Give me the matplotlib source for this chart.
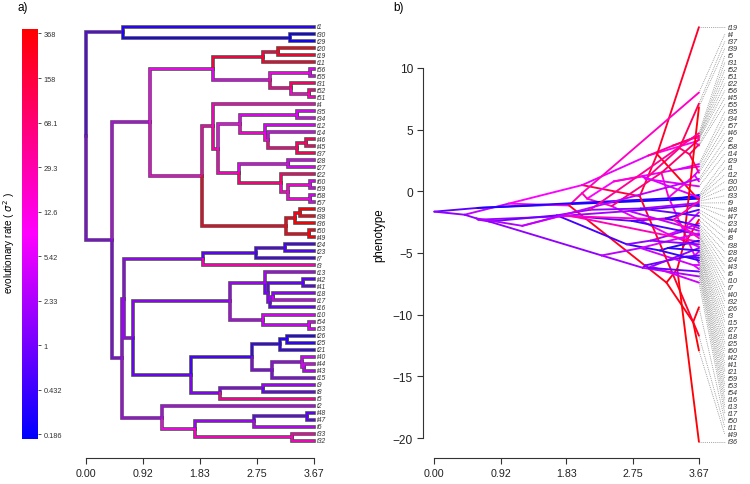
import matplotlib
matplotlib.use("Agg")
import matplotlib.pyplot as plt
import numpy as np
from matplotlib.colors import LinearSegmentedColormap, LogNorm
from matplotlib.cm import ScalarMappable
from matplotlib.ticker import NullLocator

plt.rcParams['font.family'] = ['Liberation Sans', 'DejaVu Sans']

# ---- data ----
tree_height = 3.67
time_ticks = [0.0, 0.92, 1.83, 2.75, 3.67]
time_labels = ["0.00", "0.92", "1.83", "2.75", "3.67"]
rate_ticks = [0.186, 0.432, 1, 2.33, 5.42, 12.6, 29.3, 68.1, 158, 368]
rate_labels = ["0.186", "0.432", "1", "2.33", "5.42", "12.6", "29.3", "68.1", "158", "368"]
pheno_ticks = [-20, -15, -10, -5, 0, 5, 10]

# internal nodes: name, parent, node age, rate of the branch above, phenotype
node_names = ["root", "A", "A1", "B", "C", "C1", "C1a", "C1a1", "C1b", "C1b1",
              "C1b2", "C1b3", "C2", "X", "Y", "Y1", "Y1a", "Y1b", "Y1c", "Y1d",
              "Y1e", "Y2", "Y2a", "Y2b", "Y2c", "Y2d", "Y2e", "C2b", "C2b1", "C2b2",
              "C2b3", "D", "D1", "D1a", "D1a1", "D1a2", "D1b", "D1c", "D1c1", "D1c2",
              "D1c3", "D1c4", "D1c5", "D1c6", "D1c7", "D1d", "D1e", "D1f", "D1g", "D1h",
              "D1i", "D1j", "D1k", "D1l", "D2", "D2a", "D2b", "D2c", "D2d"]
node_parent = [None, "root", "A", "root", "B", "C", "C1", "C1a", "C1", "C1b",
               "C1b", "C1b2", "C", "C2", "X", "Y", "Y1", "Y1", "Y1b", "Y1c",
               "Y1d", "Y", "Y2", "Y2", "Y2b", "Y2c", "Y2c", "C2", "C2b", "C2b1",
               "C2b", "B", "D", "D1", "D1a", "D1a1", "D1", "D1b", "D1c", "D1c1",
               "D1c2", "D1c2", "D1c4", "D1c", "D1c6", "D1b", "D1d", "D1e", "D1f", "D1e",
               "D1h", "D1i", "D1d", "D1k", "D", "D2", "D2a", "D2b", "D2a"]
node_time = [0.00, 0.60, 3.28, 0.42, 1.03, 2.05, 2.85, 3.09, 2.97, 3.61,
             3.31, 3.60, 1.87, 2.05, 2.12, 2.49, 3.40, 2.89, 2.93, 3.40,
             3.54, 2.46, 3.25, 3.15, 3.25, 3.61, 3.61, 3.22, 3.37, 3.45,
             3.59, 0.585, 0.61, 1.89, 2.74, 3.21, 0.76, 2.32, 2.89, 2.93,
             3.49, 2.97, 3.01, 2.86, 3.60, 1.70, 2.67, 3.13, 3.24, 3.00,
             3.48, 3.52, 2.16, 2.86, 1.22, 1.76, 2.70, 3.57, 3.32]
node_rate = [1.0, 0.7, 0.25, 1.5, 3.5, 8, 150, 150, 6, 10,
             40, 15, 12, 25, 30, 8, 6, 15, 15, 50,
             80, 20, 6, 60, 20, 15, 12, 250, 300, 300,
             300, 1.5, 2, 1.8, 0.7, 0.6, 2, 1.6, 2, 1.0,
             0.8, 1.5, 2, 3, 4, 0.9, 0.5, 0.4, 0.3, 1.5,
             2, 5, 1.3, 1.5, 2.5, 10, 2, 0.8, 20]
node_pheno = [-1.65, -1.35, -0.7, -1.9, -1.0, 0.5, -0.4, 3.0, 2.9, 4.0,
              3.7, 4.3, -1.15, -0.15, -0.6, 0.8, 1.8, 1.2, 1.0, 3.5,
              3.0, -1.2, -3.5, 1.5, -0.5, -5.2, 1.3, -7.4, -6.3, -4.5,
              -10.6, -2.2, -2.3, -2.0, -2.4, -2.2, -2.45, -5.2, -6.2, -6.0,
              -5.3, -6.2, -6.1, -4.6, -6.0, -1.95, -4.3, -4.8, -4.6, -4.0,
              -3.2, -2.6, -1.5, -1.4, -2.8, -2.0, -1.6, -1.15, -2.3]

# tips, top to bottom in panel a
tip_order = ["t1", "t30", "t29", "t20", "t19", "t11", "t56", "t55", "t31", "t52",
             "t51", "t4", "t35", "t34", "t12", "t14", "t46", "t45", "t37", "t28",
             "t27", "t22", "t60", "t59", "t58", "t57", "t39", "t38", "t36", "t50",
             "t49", "t24", "t23", "t7", "t3", "t13", "t42", "t41", "t18", "t17",
             "t16", "t10", "t54", "t53", "t26", "t25", "t21", "t40", "t44", "t43",
             "t15", "t9", "t8", "t5", "t2", "t48", "t47", "t6", "t33", "t32"]
tip_parent = ["A", "A1", "A1", "C1a1", "C1a1", "C1a", "C1b1", "C1b1", "C1b2", "C1b3",
              "C1b3", "X", "Y1a", "Y1a", "Y1b", "Y1c", "Y1e", "Y1e", "Y1d", "Y2a",
              "Y2a", "Y2b", "Y2d", "Y2d", "Y2e", "Y2e", "C2b2", "C2b2", "C2b1", "C2b3",
              "C2b3", "D1a2", "D1a2", "D1a1", "D1a", "D1c1", "D1c3", "D1c3", "D1c5", "D1c5",
              "D1c4", "D1c6", "D1c7", "D1c7", "D1g", "D1g", "D1f", "D1i", "D1j", "D1j",
              "D1h", "D1l", "D1l", "D1k", "D2", "D2c", "D2c", "D2b", "D2d", "D2d"]
tip_rate = [0.3, 0.2, 0.2, 300, 200, 200, 6, 5, 80, 50,
            20, 20, 5, 5, 5, 5, 100, 80, 100, 5,
            5, 80, 5, 5, 5, 5, 368, 300, 368, 300,
            368, 0.5, 0.6, 0.5, 25, 2.5, 0.7, 0.7, 1.5, 4,
            0.8, 5, 5, 5, 0.3, 0.35, 0.4, 4, 5, 3,
            1.5, 2, 0.8, 40, 3, 0.7, 0.7, 3, 30, 20]
tip_pheno = [-0.45, -0.6, -0.3, -0.7, 13.3, -11.7, 4.15, 3.7, 4.5, 4.4,
             4.3, 8.0, 2.2, 2.0, -0.5, 0.4, 1.5, 3.8, 7.1, -2.6,
             -4.5, 4.2, -4.9, -5.8, 0.8, 1.7, 6.8, -2.3, -20.3, -9.4,
             -12.9, -2.8, -1.5, -3.5, -4.1, -6.9, -5.2, -5.4, -4.6, -7.4,
             -6.5, -3.4, -6.3, -6.0, -4.0, -4.8, -5.6, -3.6, -1.7, -3.0,
             -4.3, -0.95, -2.0, 4.7, 1.0, -1.1, -1.2, -3.2, -0.8, -3.8]

# ---- tree bookkeeping ----
names = node_names + tip_order
parent = dict(zip(names, node_parent + tip_parent))
age = dict(zip(names, node_time + [tree_height] * len(tip_order)))
rate = dict(zip(names, node_rate + tip_rate))
pheno = dict(zip(names, node_pheno + tip_pheno))
children = {n: [] for n in names}
for n in names:
    if parent[n] is not None:
        children[parent[n]].append(n)

ypos = {}
def get_y(n):
    if n not in ypos:
        if children[n]:
            ypos[n] = np.mean([get_y(c) for c in children[n]])
        else:
            ypos[n] = tip_order.index(n)
    return ypos[n]
for n in names:
    get_y(n)

cmap = LinearSegmentedColormap.from_list("rate", ["#0000ff", "#ff00ff", "#ff0000"])
norm = LogNorm(vmin=0.17, vmax=400)

W, H = 750, 485
fig = plt.figure(figsize=(W / 100, H / 100), dpi=100)

def box(x0, y0, x1, y1):
    return [x0 / W, 1 - y1 / H, (x1 - x0) / W, (y1 - y0) / H]

axis_col = "#333333"

# ---- panel a: tree ----
ax1 = fig.add_axes(box(86, 20, 313.7, 458.7))
edges = [n for n in names if parent[n] is not None]
for n in edges:
    p = parent[n]
    ax1.plot([age[p], age[p], age[n]], [ypos[p], ypos[n], ypos[n]],
             color="#4a4a4a", lw=2.6, solid_joinstyle="miter",
             solid_capstyle="projecting", clip_on=False, zorder=1)
for n in edges:
    p = parent[n]
    ax1.plot([age[p], age[p], age[n]], [ypos[p], ypos[n], ypos[n]],
             color=cmap(norm(rate[n])), lw=1.3, solid_joinstyle="miter",
             solid_capstyle="projecting", clip_on=False, zorder=2)
for t in tip_order:
    ax1.text(tree_height + 0.05, ypos[t], t, style="italic", fontsize=4.8,
             color="#333333", va="center", ha="left", clip_on=False)
ax1.set_xlim(0, tree_height)
ax1.set_ylim(61.42, -1.14)
for s in ["left", "right", "top"]:
    ax1.spines[s].set_visible(False)
ax1.spines["bottom"].set_bounds(0, tree_height)
ax1.spines["bottom"].set_color(axis_col)
ax1.spines["bottom"].set_linewidth(0.8)
ax1.set_yticks([])
ax1.set_xticks(time_ticks)
ax1.set_xticklabels(time_labels)
ax1.tick_params(axis="x", length=4.5, width=0.8, color=axis_col,
                labelsize=7.7, pad=3, labelcolor="#222222")
fig.text(18 / W, 1 - 11 / H, "a)", fontsize=8.5, ha="left", va="baseline")

# colour bar
cax = fig.add_axes(box(22, 30, 38, 440))
sm = ScalarMappable(norm=norm, cmap=cmap)
cb = fig.colorbar(sm, cax=cax, ticks=rate_ticks)
cb.set_ticklabels(rate_labels)
cax.yaxis.set_minor_locator(NullLocator())
cb.outline.set_visible(False)
cax.tick_params(length=2.2, width=0.6, color=axis_col, labelsize=5.3,
                pad=2, labelcolor="#333333")
cax.set_ylabel(r"evolutionary rate ( $\sigma^2$ )", fontsize=7.2)
cax.yaxis.set_label_position("left")
cax.yaxis.set_label_coords(-0.3, 0.48)

# ---- panel b: phenogram ----
ax2 = fig.add_axes(box(422.7, 20, 700, 458.7))
for n in edges:
    p = parent[n]
    ax2.plot([age[p], age[n]], [pheno[p], pheno[n]], color=cmap(norm(rate[n])),
             lw=1.35, solid_capstyle="round", zorder=2)

order = sorted(tip_order, key=lambda t: -pheno[t])
label_y = np.linspace(pheno[order[0]], pheno[order[-1]], len(order))
for t, ly in zip(order, label_y):
    ax2.plot([tree_height, 4.03], [pheno[t], ly], ls=(0, (1, 1.3)),
             color="#8a8a8a", lw=0.6, clip_on=False, zorder=1)
    ax2.text(4.07, ly, t, style="italic", fontsize=5.2, color="#333333",
             va="center", ha="left", clip_on=False)

ax2.set_xlim(-0.161, 3.685)
ax2.set_ylim(-21.59, 13.96)
for s in ["right", "top"]:
    ax2.spines[s].set_visible(False)
ax2.spines["bottom"].set_bounds(0, tree_height)
ax2.spines["left"].set_bounds(-20, 10)
for s in ["bottom", "left"]:
    ax2.spines[s].set_color(axis_col)
    ax2.spines[s].set_linewidth(0.8)
ax2.set_xticks(time_ticks)
ax2.set_xticklabels(time_labels)
ax2.set_yticks(pheno_ticks)
ax2.tick_params(axis="x", length=4.5, width=0.8, color=axis_col,
                labelsize=7.7, pad=3, labelcolor="#222222")
ax2.tick_params(axis="y", length=4.5, width=0.8, color=axis_col,
                labelsize=8.6, pad=2.5, labelcolor="#222222")
ax2.set_ylabel("phenotype", fontsize=8.3)
ax2.yaxis.set_label_coords(-0.135, 0.51)
fig.text(393 / W, 1 - 11 / H, "b)", fontsize=8.5, ha="left", va="baseline")

fig.savefig("out.png", dpi=100)
